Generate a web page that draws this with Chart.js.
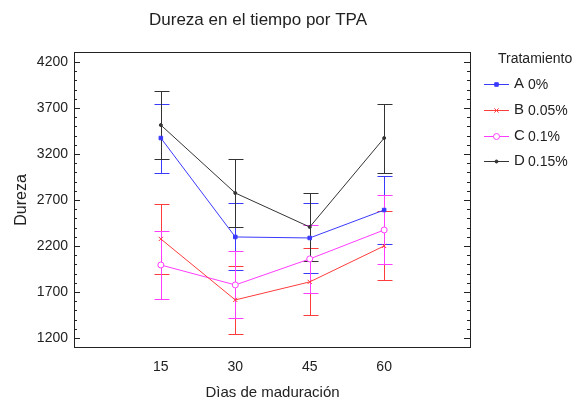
<!DOCTYPE html>
<html><head><meta charset="utf-8">
<script src="https://cdn.jsdelivr.net/npm/chart.js@4"></script>
<style>html,body{margin:0;padding:0;background:#fff}</style>
</head><body>
<canvas id="c" width="579" height="405"></canvas>
<script>
// Días de maduración (x) and Dureza means with half-width of the interval bars
const dias = [15, 30, 45, 60];
const yTicks = [1200, 1700, 2200, 2700, 3200, 3700, 4200];
const letras = ['A', 'B', 'C', 'D'];
const dosis = ['0%', '0.05%', '0.1%', '0.15%'];
const mediaA = [3374, 2298, 2287, 2591];
const mediaB = [2276, 1613, 1809, 2200];
const mediaC = [1993, 1776, 2059, 2374];
const mediaD = [3515, 2776, 2406, 3374];
const errA = [375, 364, 380, 375];
const errB = [380, 370, 364, 375];
const errC = [370, 364, 370, 375];
const errD = [370, 365, 375, 375];

const FONT = '"Liberation Sans", Arial, sans-serif';
const colores = ['#3a3aff', '#ff3c3c', '#ff3cff', '#333333'];
const medias = [mediaA, mediaB, mediaC, mediaD];
const errores = [errA, errB, errC, errD];
const estilos = [
  { pointStyle: 'rect', pointRadius: 2.5, fill: true },
  { pointStyle: 'crossRot', pointRadius: 3, fill: false },
  { pointStyle: 'circle', pointRadius: 3, fill: false },
  { pointStyle: 'circle', pointRadius: 1.5, fill: true }
];

const datasets = medias.map((m, i) => ({
  label: letras[i] + ' ' + dosis[i],
  data: dias.map((d, j) => ({ x: d, y: m[j] })),
  borderColor: colores[i],
  backgroundColor: estilos[i].fill ? colores[i] : '#ffffff',
  borderWidth: 1,
  pointStyle: estilos[i].pointStyle,
  pointRadius: estilos[i].pointRadius,
  pointBorderWidth: 1,
  pointBorderColor: colores[i],
  pointBackgroundColor: estilos[i].fill ? colores[i] : '#ffffff',
  tension: 0,
  fill: false
}));

const extras = {
  id: 'extras',
  beforeDatasetsDraw(chart) {
    // interval bars
    const ctx = chart.ctx, xs = chart.scales.x, ys = chart.scales.y;
    ctx.save();
    ctx.lineWidth = 1;
    medias.forEach((m, i) => {
      ctx.strokeStyle = colores[i];
      dias.forEach((d, j) => {
        const x = Math.round(xs.getPixelForValue(d)) + 0.5;
        const yt = Math.round(ys.getPixelForValue(m[j] + errores[i][j])) + 0.5;
        const yb = Math.round(ys.getPixelForValue(m[j] - errores[i][j])) + 0.5;
        ctx.beginPath();
        ctx.moveTo(x, yt); ctx.lineTo(x, yb);
        ctx.moveTo(x - 7, yt); ctx.lineTo(x + 8, yt);
        ctx.moveTo(x - 7, yb); ctx.lineTo(x + 8, yb);
        ctx.stroke();
      });
    });
    ctx.restore();
  },
  afterDraw(chart) {
    const ctx = chart.ctx, a = chart.chartArea, ys = chart.scales.y;
    ctx.save();
    // frame
    ctx.strokeStyle = '#222';
    ctx.lineWidth = 1;
    ctx.strokeRect(a.left + 0.5, a.top + 0.5, a.right - a.left - 1, a.bottom - a.top - 1);
    // inner ticks on left and right sides
    ctx.beginPath();
    for (let v = yTicks[0]; v <= yTicks[yTicks.length - 1]; v += 100) {
      const y = Math.round(ys.getPixelForValue(v)) + 0.5;
      const len = (v - yTicks[0]) % 500 === 0 ? 6 : 3;
      ctx.moveTo(a.left, y); ctx.lineTo(a.left + len, y);
      ctx.moveTo(a.right - 1, y); ctx.lineTo(a.right - 1 - len, y);
    }
    ctx.stroke();
    // title
    ctx.fillStyle = '#222';
    ctx.font = '17px ' + FONT;
    ctx.textAlign = 'center';
    ctx.textBaseline = 'middle';
    ctx.fillText('Dureza en el tiempo por TPA', 258, 20);
    // legend
    ctx.textAlign = 'left';
    ctx.font = '14px ' + FONT;
    ctx.fillText('Tratamiento', 498, 59);
    const filas = [84, 110, 136, 161];
    chart.data.datasets.forEach((ds, i) => {
      const y = filas[i];
      ctx.strokeStyle = ds.borderColor;
      ctx.lineWidth = 1;
      ctx.beginPath();
      ctx.moveTo(484, y + 0.5); ctx.lineTo(509, y + 0.5);
      ctx.stroke();
      ctx.fillStyle = ds.pointBackgroundColor;
      ctx.strokeStyle = ds.pointBorderColor;
      Chart.helpers.drawPoint(ctx, {
        pointStyle: ds.pointStyle, radius: ds.pointRadius, borderWidth: 1, rotation: 0
      }, 496.5, y + 0.5);
      ctx.fillStyle = '#222';
      ctx.font = '15px ' + FONT;
      ctx.fillText(letras[i], 514, y);
      ctx.font = '14px ' + FONT;
      ctx.fillText(dosis[i], 528, y + 1);
    });
    ctx.restore();
  }
};

new Chart(document.getElementById('c'), {
  type: 'line',
  data: { datasets },
  options: {
    responsive: false,
    devicePixelRatio: 1,
    animation: false,
    layout: { padding: { top: 52, right: 108, left: 0, bottom: 0 } },
    plugins: { legend: { display: false }, tooltip: { enabled: false } },
    elements: { point: { hoverRadius: 3 } },
    scales: {
      x: {
        type: 'linear', min: -2.5, max: 77.5,
        afterBuildTicks(s) { s.ticks = dias.map(v => ({ value: v })); },
        afterFit(s) { s.height = 57; },
        grid: { display: false, drawTicks: false },
        border: { display: false },
        ticks: { padding: 11, color: '#222', font: { family: FONT, size: 14 }, maxRotation: 0,
                 callback: v => String(v) },
        title: { display: true, text: 'Dìas de maduración', color: '#222',
                 font: { family: FONT, size: 15 }, padding: { top: 0, bottom: 3 } }
      },
      y: {
        type: 'linear', min: 1090, max: 4310,
        afterBuildTicks(s) { s.ticks = yTicks.map(v => ({ value: v })); },
        afterFit(s) { s.width = 74; },
        grid: { display: false, drawTicks: false },
        border: { display: false },
        ticks: { padding: 6, color: '#222', font: { family: FONT, size: 14 },
                 callback: v => String(v) },
        title: { display: true, text: 'Dureza', color: '#222',
                 font: { family: FONT, size: 16 }, padding: { top: 12, bottom: 0 } }
      }
    }
  },
  plugins: [extras]
});
</script>
</body></html>
